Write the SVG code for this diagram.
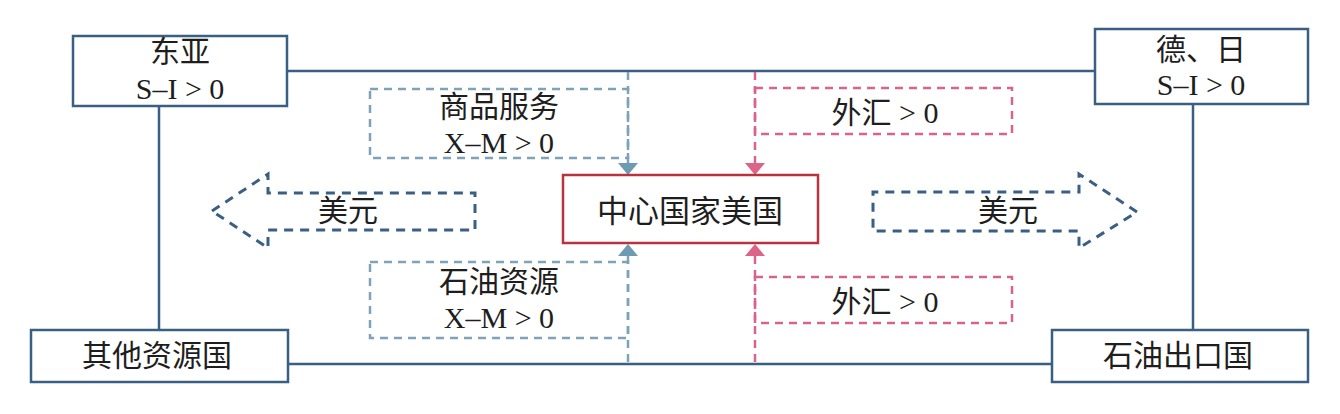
<svg xmlns="http://www.w3.org/2000/svg" width="1340" height="414" viewBox="0 0 1340 414">
<style>
.box{fill:#fff;stroke:#3a5f85;stroke-width:2.5}
.ctr{fill:#fff;stroke:#b8333d;stroke-width:2.5}
.line{fill:none;stroke:#3a5f85;stroke-width:2.5}
.dblue{fill:none;stroke:#7ea3b8;stroke-width:2.5;stroke-dasharray:8 6}
.dpink{fill:none;stroke:#d6648c;stroke-width:2.5;stroke-dasharray:8 6}
.darr{fill:none;stroke:#3a5f85;stroke-width:3;stroke-dasharray:9 7}
text{font-family:"Liberation Serif","Noto Sans CJK SC",serif;font-size:30px;fill:#1e1e1e;text-anchor:middle}
</style>
<g id="connectors">
<line class="line" x1="287" y1="71" x2="1095" y2="71"/>
<line class="line" x1="288" y1="364" x2="1052" y2="364"/>
<line class="line" x1="159" y1="106" x2="159" y2="330"/>
<line class="line" x1="1193" y1="104" x2="1193" y2="330"/>
<line class="dblue" x1="628" y1="72" x2="628" y2="163"/>
<polygon points="618,163 638,163 628,175" fill="#6f9ab3"/>
<line class="dblue" x1="628" y1="256" x2="628" y2="363"/>
<polygon points="618,256 638,256 628,244" fill="#6f9ab3"/>
<line class="dpink" x1="755" y1="72" x2="755" y2="163"/>
<polygon points="745,163 765,163 755,175" fill="#dc6486"/>
<line class="dpink" x1="755" y1="256" x2="755" y2="363"/>
<polygon points="745,256 765,256 755,244" fill="#dc6486"/>
</g>
<g id="east-asia">
<rect class="box" x="73" y="36" width="214" height="70"/>
<text x="180" y="62">东亚</text>
<text x="180" y="99">S–I &gt; 0</text>
</g>
<g id="germany-japan">
<rect class="box" x="1095" y="29" width="213" height="75"/>
<text x="1201" y="60">德、日</text>
<text x="1201" y="95">S–I &gt; 0</text>
</g>
<g id="other-resource">
<rect class="box" x="31" y="330" width="257" height="52"/>
<text x="157" y="366">其他资源国</text>
</g>
<g id="oil-exporter">
<rect class="box" x="1052" y="330" width="256" height="52"/>
<text x="1178" y="366">石油出口国</text>
</g>
<g id="usa">
<rect class="ctr" x="563" y="175" width="255" height="68"/>
<text x="690" y="222" style="font-size:31px">中心国家美国</text>
</g>
<g id="goods">
<rect class="dblue" x="370" y="89" width="258" height="69"/>
<text x="499" y="117">商品服务</text>
<text x="499" y="153">X–M &gt; 0</text>
</g>
<g id="oil-resource">
<rect class="dblue" x="370" y="262" width="258" height="76"/>
<text x="499" y="292">石油资源</text>
<text x="499" y="328">X–M &gt; 0</text>
</g>
<g id="forex-top">
<rect class="dpink" x="755" y="88" width="257" height="46"/>
<text x="885" y="123">外汇 &gt; 0</text>
</g>
<g id="forex-bottom">
<rect class="dpink" x="755" y="277" width="257" height="46"/>
<text x="885" y="312">外汇 &gt; 0</text>
</g>
<g id="usd-left">
<polygon class="darr" points="212,211 268,174 268,193 475,193 475,230 268,230 268,248"/>
<text x="348" y="221">美元</text>
</g>
<g id="usd-right">
<polygon class="darr" points="1137,212 1079,174 1079,192 873,192 873,231 1079,231 1079,248"/>
<text x="1008" y="221">美元</text>
</g>
</svg>
